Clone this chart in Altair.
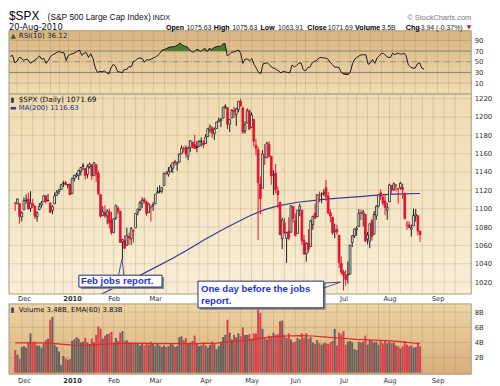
import altair as alt
import pandas as pd

# ---------------- data ----------------
# first bar = 24-Nov-2009 (index -4), last bar = 20-Aug-2010 (index 181)
TRADING_DAYS = {
    "2009-11": [24, 25, 27, 30],
    "2009-12": [1, 2, 3, 4, 7, 8, 9, 10, 11, 14, 15, 16, 17, 18, 21, 22, 23, 24, 28, 29, 30, 31],
    "2010-01": [4, 5, 6, 7, 8, 11, 12, 13, 14, 15, 19, 20, 21, 22, 25, 26, 27, 28, 29],
    "2010-02": [1, 2, 3, 4, 5, 8, 9, 10, 11, 12, 16, 17, 18, 19, 22, 23, 24, 25, 26],
    "2010-03": [1, 2, 3, 4, 5, 8, 9, 10, 11, 12, 15, 16, 17, 18, 19, 22, 23, 24, 25, 26, 29, 30, 31],
    "2010-04": [1, 5, 6, 7, 8, 9, 12, 13, 14, 15, 16, 19, 20, 21, 22, 23, 26, 27, 28, 29, 30],
    "2010-05": [3, 4, 5, 6, 7, 10, 11, 12, 13, 14, 17, 18, 19, 20, 21, 24, 25, 26, 27, 28],
    "2010-06": [1, 2, 3, 4, 7, 8, 9, 10, 11, 14, 15, 16, 17, 18, 21, 22, 23, 24, 25, 28, 29, 30],
    "2010-07": [1, 2, 6, 7, 8, 9, 12, 13, 14, 15, 16, 19, 20, 21, 22, 23, 26, 27, 28, 29, 30],
    "2010-08": [2, 3, 4, 5, 6, 9, 10, 11, 12, 13, 16, 17, 18, 19, 20],
}
PREV_CLOSE = 1106.2

OPEN = [
    1105.8, 1105.5, 1105.5, 1091.1,
    1098.9, 1109.0, 1110.6, 1100.4, 1105.5, 1103.0, 1091.1, 1099.0, 1103.9, 1107.8, 1114.1, 1108.6, 1106.4, 1097.9,
    1105.3, 1114.5, 1118.8, 1121.1, 1127.5, 1128.6, 1125.5, 1126.6,
    1116.6, 1132.7, 1135.7, 1136.3, 1140.5, 1146.0, 1143.8, 1137.3, 1145.7, 1147.7, 1136.0, 1148.0, 1138.7, 1115.5,
    1092.4, 1095.8, 1091.9, 1096.9, 1087.6,
    1073.9, 1090.1, 1100.7, 1097.3, 1064.1, 1065.5, 1060.1, 1069.7, 1067.1, 1076.0, 1079.1, 1096.1, 1099.0, 1105.5,
    1110.0, 1107.5, 1095.9, 1101.2, 1103.1,
    1105.4, 1117.0, 1119.4, 1119.1, 1125.1, 1138.4, 1137.6, 1140.2, 1144.0, 1151.7, 1148.5, 1150.8, 1159.9, 1166.1,
    1166.7, 1157.3, 1166.5, 1172.7, 1170.0, 1167.6, 1167.7, 1173.8, 1171.8,
    1171.2, 1178.7, 1186.0, 1188.2, 1181.8, 1187.5, 1194.9, 1195.9, 1198.7, 1210.8, 1210.2, 1192.1, 1199.0, 1207.2,
    1202.5, 1207.9, 1217.1, 1209.9, 1184.6, 1193.3, 1206.8,
    1188.6, 1197.5, 1169.2, 1164.4, 1127.0, 1122.3, 1156.4, 1155.4, 1170.0, 1157.2, 1136.5, 1138.8, 1119.6, 1107.3,
    1067.3, 1084.8, 1067.4, 1075.5, 1074.3, 1102.6,
    1087.3, 1073.0, 1098.8, 1098.4, 1065.8, 1050.8, 1062.8, 1058.8, 1082.7, 1095.0, 1091.2, 1114.0, 1116.0, 1116.2,
    1122.8, 1113.9, 1095.6, 1090.9, 1075.1, 1077.5, 1071.1, 1040.6,
    1031.1, 1027.7, 1028.1, 1028.5, 1062.9, 1070.5, 1077.2, 1080.7, 1095.6, 1094.5, 1093.9, 1066.9, 1064.5, 1086.7,
    1072.1, 1092.2, 1102.9, 1117.4, 1112.8, 1108.1, 1098.4,
    1107.5, 1125.3, 1121.1, 1125.8, 1122.1, 1122.8, 1122.9, 1116.9, 1081.5, 1082.2, 1077.5, 1081.2, 1092.1, 1092.4,
    1075.6,
]
HIGH = [
    1107.6, 1111.1, 1105.5, 1097.2,
    1112.3, 1115.6, 1117.3, 1119.1, 1110.7, 1103.0, 1097.0, 1106.3, 1108.5, 1114.8, 1114.1, 1116.2, 1106.4, 1103.7,
    1117.7, 1120.3, 1121.6, 1126.5, 1130.4, 1130.4, 1126.4, 1127.6,
    1133.9, 1136.6, 1139.2, 1142.5, 1145.4, 1149.7, 1143.8, 1148.4, 1150.4, 1147.8, 1150.5, 1148.0, 1141.6, 1115.5,
    1102.6, 1103.7, 1099.5, 1100.2, 1096.5,
    1089.4, 1104.7, 1102.7, 1097.3, 1067.1, 1071.2, 1079.3, 1073.7, 1080.0, 1077.8, 1095.0, 1099.8, 1108.2, 1112.4,
    1112.3, 1108.6, 1106.4, 1103.5, 1107.2,
    1116.1, 1123.5, 1125.6, 1123.7, 1139.4, 1141.1, 1145.4, 1148.3, 1150.2, 1153.4, 1151.0, 1160.3, 1169.2, 1167.8,
    1169.2, 1167.8, 1174.7, 1173.0, 1180.7, 1173.9, 1174.9, 1177.8, 1174.6,
    1181.4, 1187.7, 1191.8, 1189.6, 1188.6, 1194.7, 1199.2, 1199.0, 1210.7, 1213.9, 1210.2, 1197.9, 1208.6, 1211.0,
    1210.3, 1217.3, 1219.8, 1211.4, 1195.1, 1209.4, 1208.0,
    1205.1, 1197.5, 1176.0, 1167.6, 1135.1, 1163.9, 1170.5, 1172.9, 1173.6, 1157.2, 1141.9, 1148.7, 1124.3, 1107.3,
    1090.2, 1090.0, 1074.8, 1090.8, 1103.5, 1102.6,
    1094.8, 1098.6, 1105.7, 1098.4, 1071.3, 1063.2, 1077.7, 1087.9, 1092.3, 1105.9, 1115.6, 1118.7, 1117.7, 1121.0,
    1131.2, 1118.5, 1099.6, 1090.9, 1083.6, 1082.6, 1071.1, 1048.1,
    1033.6, 1033.0, 1042.5, 1060.9, 1071.3, 1078.2, 1080.8, 1099.5, 1099.1, 1098.7, 1093.9, 1074.7, 1083.9, 1089.0,
    1097.5, 1103.7, 1115.2, 1121.0, 1114.7, 1115.9, 1106.4,
    1127.3, 1125.4, 1128.8, 1126.6, 1122.1, 1129.2, 1127.2, 1116.9, 1086.7, 1086.3, 1082.6, 1100.1, 1099.8, 1092.4,
    1075.6,
]
LOW = [
    1097.6, 1104.8, 1083.7, 1086.3,
    1098.9, 1105.6, 1098.7, 1096.5, 1100.8, 1088.6, 1085.9, 1098.3, 1101.3, 1107.8, 1105.4, 1107.9, 1095.9, 1093.9,
    1105.3, 1114.5, 1116.0, 1121.1, 1123.5, 1126.1, 1121.9, 1114.8,
    1116.6, 1129.7, 1133.9, 1131.3, 1136.2, 1142.0, 1131.8, 1133.2, 1143.8, 1131.4, 1136.0, 1129.3, 1114.8, 1090.2,
    1092.4, 1089.9, 1083.1, 1078.5, 1071.6,
    1073.9, 1088.0, 1094.0, 1062.8, 1044.5, 1056.5, 1060.1, 1060.5, 1060.6, 1063.0, 1079.1, 1092.8, 1097.5, 1100.8,
    1105.4, 1092.2, 1095.5, 1086.0, 1097.6,
    1105.4, 1116.5, 1116.6, 1116.7, 1125.1, 1136.8, 1134.9, 1140.1, 1139.0, 1147.0, 1141.5, 1150.4, 1159.9, 1161.2,
    1155.3, 1152.9, 1161.9, 1166.0, 1165.1, 1161.5, 1167.7, 1168.0, 1165.8,
    1170.7, 1178.7, 1182.8, 1177.3, 1175.1, 1187.2, 1194.7, 1188.8, 1198.7, 1208.5, 1186.8, 1183.7, 1199.0, 1198.9,
    1190.2, 1205.1, 1211.1, 1181.6, 1181.8, 1193.3, 1186.3,
    1188.6, 1168.1, 1158.2, 1065.8, 1094.2, 1122.3, 1147.7, 1155.4, 1156.1, 1126.1, 1115.0, 1117.2, 1100.7, 1071.6,
    1055.9, 1072.7, 1040.8, 1065.6, 1074.3, 1084.8,
    1069.9, 1072.9, 1091.8, 1060.5, 1049.9, 1042.2, 1052.3, 1058.8, 1077.1, 1089.0, 1091.2, 1107.1, 1105.9, 1113.9,
    1108.2, 1094.2, 1085.3, 1071.6, 1067.9, 1071.5, 1035.2, 1028.3,
    1010.9, 1015.9, 1018.4, 1028.5, 1058.2, 1068.1, 1070.4, 1080.7, 1087.7, 1080.5, 1063.3, 1061.1, 1056.9, 1065.3,
    1072.1, 1087.9, 1101.3, 1109.8, 1103.1, 1092.8, 1088.0,
    1107.5, 1116.8, 1119.5, 1118.9, 1105.6, 1120.9, 1111.0, 1088.0, 1076.7, 1079.0, 1069.5, 1081.2, 1085.8, 1070.7,
    1063.9,
]
CLOSE = [
    1105.7, 1110.6, 1091.5, 1095.6,
    1108.9, 1109.2, 1099.9, 1106.0, 1103.3, 1091.9, 1095.9, 1102.4, 1106.4, 1114.1, 1107.9, 1109.2, 1096.1, 1102.5,
    1114.1, 1118.0, 1120.6, 1126.5, 1127.8, 1126.2, 1126.4, 1115.1,
    1133.0, 1136.5, 1137.1, 1141.7, 1145.0, 1147.0, 1136.2, 1145.7, 1148.5, 1136.0, 1150.2, 1138.0, 1116.5, 1091.8,
    1096.8, 1092.2, 1097.5, 1084.5, 1073.9,
    1089.2, 1103.3, 1097.3, 1063.1, 1066.2, 1056.7, 1070.5, 1068.1, 1078.5, 1075.5, 1094.9, 1099.5, 1106.8, 1109.2,
    1108.0, 1094.6, 1105.2, 1102.9, 1104.5,
    1115.7, 1118.3, 1118.8, 1123.0, 1138.7, 1138.5, 1140.5, 1145.6, 1150.2, 1150.0, 1150.5, 1159.5, 1166.2, 1165.8,
    1159.9, 1165.8, 1174.2, 1167.7, 1165.7, 1166.6, 1173.2, 1173.3, 1169.4,
    1178.1, 1187.4, 1189.4, 1182.5, 1186.4, 1194.4, 1196.5, 1197.3, 1210.7, 1211.7, 1192.1, 1197.5, 1207.2, 1205.9,
    1208.7, 1217.3, 1212.1, 1183.7, 1191.4, 1206.8, 1186.7,
    1202.3, 1173.6, 1165.9, 1128.2, 1110.9, 1159.7, 1155.8, 1171.7, 1157.4, 1135.7, 1136.9, 1120.8, 1115.1, 1071.6,
    1087.7, 1073.7, 1074.0, 1068.0, 1103.1, 1089.4,
    1070.7, 1098.4, 1102.8, 1064.9, 1050.5, 1062.0, 1055.7, 1086.8, 1091.6, 1089.6, 1115.2, 1114.6, 1116.0, 1117.5,
    1113.2, 1095.3, 1092.0, 1073.7, 1076.8, 1074.6, 1041.2, 1030.7,
    1027.4, 1022.6, 1028.1, 1060.3, 1070.3, 1078.0, 1078.8, 1095.3, 1095.2, 1096.5, 1064.9, 1071.3, 1083.5, 1069.6,
    1093.7, 1102.7, 1115.0, 1113.8, 1106.1, 1101.5, 1101.6,
    1125.9, 1120.5, 1127.2, 1125.8, 1121.6, 1127.8, 1121.1, 1089.5, 1083.6, 1079.3, 1079.4, 1092.5, 1094.2, 1075.6,
    1071.7,
]
VOLUME = [  # billions
    3.0, 2.4, 1.8, 3.4,
    3.5, 3.3, 4.1, 5.2, 4.0, 4.1, 3.6, 3.6, 3.3, 3.8, 4.3, 4.5, 7.0, 7.4,
    3.7, 3.4, 2.8, 1.0, 2.2, 1.9, 1.7, 1.8,
    4.2, 4.4, 4.7, 4.5, 4.0, 4.1, 4.6, 4.0, 3.8, 4.5, 4.0, 5.0, 6.1, 5.8,
    4.5, 4.9, 5.1, 5.2, 5.4,
    4.0, 4.6, 4.2, 5.3, 5.5, 4.2, 4.3, 4.0, 3.9, 3.8, 3.9, 3.8, 3.6, 3.9,
    3.6, 3.9, 3.7, 4.1, 3.9,
    3.5, 3.8, 3.6, 3.4, 3.6, 3.4, 3.5, 3.9, 3.7, 3.4, 3.5, 4.7, 4.8, 4.3,
    4.6, 3.8, 4.0, 4.2, 4.9, 3.8, 3.5, 3.6, 4.0,
    3.6, 3.3, 3.7, 4.1, 3.8, 3.1, 3.5, 4.1, 4.7, 5.0, 7.0, 5.3, 4.4, 5.0,
    4.7, 5.2, 4.8, 6.0, 5.0, 5.0, 5.1,
    4.4, 5.2, 5.2, 8.4, 7.9, 5.8, 4.6, 4.4, 4.9, 4.8, 5.3, 5.0, 5.1, 6.8,
    6.9, 5.0, 4.6, 5.2, 4.4, 4.0,
    4.1, 4.6, 4.4, 5.2, 4.6, 5.2, 4.5, 4.7, 4.0, 3.8, 4.3, 3.9, 3.7, 3.9,
    3.9, 3.8, 4.0, 4.2, 5.8, 3.6, 5.3, 5.1,
    5.5, 3.7, 4.1, 4.2, 4.0, 3.1, 3.0, 4.1, 4.0, 4.1, 4.9, 3.7, 4.3, 4.2,
    4.0, 4.1, 3.7, 4.2, 3.9, 4.3, 3.9,
    4.1, 3.9, 4.0, 3.6, 3.5, 3.2, 3.5, 4.2, 3.7, 3.5, 3.6, 3.3, 3.4, 4.0,
    3.5,
]
RSI = [
    60, 62, 48, 51,
    58, 57, 52, 55, 53, 47, 50, 53, 56, 61, 55, 56, 47, 52,
    60, 63, 65, 68, 69, 67, 67, 52,
    62, 64, 65, 67, 70, 71, 62, 66, 67, 58, 65, 56, 38, 30,
    32, 31, 33, 30, 27,
    38, 45, 42, 31, 31, 29, 36, 35, 41, 40, 50, 52, 56, 57,
    56, 49, 54, 53, 55,
    57, 59, 62, 66, 72, 73, 75, 77, 78, 78, 79, 82, 85, 81,
    79, 78, 74, 69, 68, 72, 73, 69, 72,
    75, 69, 75, 73, 76, 78, 79, 79, 83, 84, 61, 64, 68, 68,
    70, 72, 66, 47, 55, 55, 52,
    56, 45, 38, 30, 28, 46, 47, 48, 44, 39, 38, 35, 33, 29,
    32, 31, 30, 29, 44, 40,
    43, 47, 48, 35, 33, 39, 40, 48, 51, 52, 57, 58, 57, 57,
    55, 49, 45, 40, 40, 39, 30, 27,
    26, 26, 30, 46, 55, 58, 61, 63, 63, 63, 45, 48, 54, 47,
    57, 61, 66, 65, 61, 58, 58,
    66, 63, 66, 65, 64, 66, 61, 44, 40, 38, 38, 46, 48, 38,
    36.1,
]
# 200-day moving average of price, read at sample bars
MA_IDX = [30, 38, 45, 52, 60, 68, 76, 83, 93, 103, 110, 116, 125, 138, 147, 155, 164, 173, 181]
MA_VAL = [1000, 1010, 1018, 1026, 1036, 1046, 1057, 1067, 1080, 1092, 1099, 1103, 1107, 1110.5, 1112,
          1113.5, 1115.3, 1116.2, 1116.6]
# 60-day EMA of volume (billions), read at sample bars
EMA_IDX = [-4, 5, 12, 18, 24, 30, 36, 42, 50, 60, 70, 80, 88, 95, 100, 107, 112, 120, 126, 132, 138,
           145, 152, 160, 168, 175, 181]
EMA_VAL = [3.95, 3.95, 3.9, 3.75, 3.6, 3.65, 3.75, 3.85, 3.9, 3.85, 3.85, 3.85, 3.9, 4.1, 4.25, 4.5, 4.7,
           4.85, 4.9, 4.85, 4.7, 4.55, 4.4, 4.3, 4.2, 4.0, 3.83]

MONTH_TICKS = [0, 22, 41, 60, 83, 104, 124, 146, 167, 189]
MONTH_LABELS = ["Dec", "2010", "Feb", "Mar", "Apr", "May", "Jun", "Jul", "Aug", "Sep"]
WEEK_GRID = [-1, 4, 9, 14, 18, 22, 27, 32, 36, 41, 46, 51, 55, 60, 65, 70, 75, 80, 84, 89, 94, 99, 104,
             109, 114, 119, 124, 128, 133, 138, 143, 148, 152, 157, 162, 167, 172, 177, 182, 187, 192, 197]
PRICE_TICKS = [1020, 1040, 1060, 1080, 1100, 1120, 1140, 1160, 1180, 1200, 1220]
RSI_TICKS = [10, 30, 50, 70, 90]
VOL_TICKS = [2, 4, 6, 8]

QUOTE_LABELS = ["Open", "High", "Low", "Close", "Volume", "Chg"]
QUOTE_VALUES = ["1075.63", "1075.63", "1063.91", "1071.69", "3.5B", "-3.94 (-0.37%)"]
ANNOT_FEB = 45    # 05-Feb-2010
ANNOT_JUL = 146   # 01-Jul-2010

# ---------------- build tables ----------------
n = len(CLOSE)
assert all(len(a) == n for a in (OPEN, HIGH, LOW, VOLUME, RSI)), [len(a) for a in (OPEN, HIGH, LOW, CLOSE, VOLUME, RSI)]
dates = [f"{m}-{d:02d}" for m, days in TRADING_DAYS.items() for d in days]
assert len(dates) == n

RED, BLK, HOLLOW = "#e3122f", "#1d1d1d", "#fbf8ee"
VRED, VGRAY = "#d7434d", "#68615b"
prev = [PREV_CLOSE] + CLOSE[:-1]
rows = []
for i in range(n):
    down = CLOSE[i] < prev[i]
    col = RED if down else BLK
    rows.append(dict(idx=i - 4, date=dates[i], open=OPEN[i], high=HIGH[i], low=LOW[i], close=CLOSE[i],
                     vol=VOLUME[i], rsi=RSI[i], stroke=col,
                     fill=HOLLOW if CLOSE[i] > OPEN[i] else col,
                     vcol=VRED if down else VGRAY))
df = pd.DataFrame(rows)
ma_df = pd.DataFrame({"idx": MA_IDX, "ma": MA_VAL})
ema_df = pd.DataFrame({"idx": EMA_IDX, "ema": EMA_VAL})
week_df = pd.DataFrame({"idx": WEEK_GRID})
ONE = pd.DataFrame({"k": [0]})
annot_df = pd.DataFrame({"idx": [ANNOT_FEB]})
annot2_df = pd.DataFrame({"idx": [ANNOT_JUL]})

# ---------------- layout ----------------
W = 467
H_RSI, H_PX, H_GAP, H_VOL = 64, 202, 10, 71
XS = alt.Scale(domain=[-4.58, 202.1], nice=False, zero=False)
FONT = "DejaVu Sans"
ARIAL = "Liberation Sans"
BORDER = "#a89a80"

label_expr = " : ".join(f"datum.value === {t} ? '{l}'" for t, l in zip(MONTH_TICKS, MONTH_LABELS)) + " : ''"
bold_2010 = {"condition": {"test": f"datum.value === {MONTH_TICKS[1]}", "value": "bold"}, "value": "normal"}


def x_axis(pad):
    return alt.Axis(orient="bottom", values=MONTH_TICKS, labelExpr=label_expr, labelFontWeight=bold_2010,
                    grid=False, ticks=False, domain=False, labelPadding=pad, labelFlush=False,
                    labelOverlap=False, title=None, labelFontSize=6.8, labelColor="#333")


def mkx(axis):
    def f(field="idx"):
        return alt.X(f"{field}:Q", scale=XS, axis=axis)
    return f


def mky(domain, ticks, expr="format(datum.value, 'd')"):
    ax = alt.Axis(orient="right", values=ticks, grid=False, ticks=False, domain=False, labelPadding=3,
                  title=None, labelFontSize=7, labelColor="#333", labelExpr=expr)
    sc = alt.Scale(domain=domain, nice=False, zero=False)

    def f(field):
        return alt.Y(f"{field}:Q", scale=sc, axis=ax)
    return f


def bg(top, bottom, h):
    grad = alt.Gradient(gradient="linear", x1=0, x2=0, y1=0, y2=1,
                        stops=[alt.GradientStop(color=top, offset=0), alt.GradientStop(color=bottom, offset=1)])
    return alt.Chart(ONE).mark_rect(color=grad).encode(
        x=alt.value(0), x2=alt.value(W), y=alt.value(0), y2=alt.value(h))


def frame(h):
    return alt.Chart(ONE).mark_rect(fill=None, stroke=BORDER, strokeWidth=1).encode(
        x=alt.value(0), x2=alt.value(W), y=alt.value(0), y2=alt.value(h))


def txt(text, x, y, size=7, font=FONT, weight="normal", color="#111", align="left"):
    return alt.Chart(ONE).mark_text(text=text, align=align, baseline="alphabetic", font=font,
                                    fontSize=size, fontWeight=weight, color=color).encode(
        x=alt.value(x), y=alt.value(y))


def week_rules(xf, h):
    return alt.Chart(week_df).mark_rule(color="#8b7150", opacity=0.22, strokeWidth=1).encode(
        x=xf("idx"), y=alt.value(0), y2=alt.value(h))


def hlines(vals, yf, color, width=1, dash=None, opacity=1.0):
    kw = dict(color=color, strokeWidth=width, opacity=opacity)
    if dash:
        kw["strokeDash"] = dash
    return alt.Chart(pd.DataFrame({"v": vals})).mark_rule(**kw).encode(
        y=yf("v"), x=alt.value(0), x2=alt.value(W))


# ---------------- RSI panel ----------------
xr = mkx(None)
yr = mky([-10.5, 108], RSI_TICKS)
rsi_layers = [
    bg("#d9b482", "#f1ddb4", H_RSI),
    week_rules(xr, H_RSI),
    hlines([10, 90], yr, "#8b7150", 1, opacity=0.3),
    hlines([30, 70], yr, "#8a8070", 1),
    hlines([50], yr, "#968b79", 1, dash=[6, 2, 1, 2]),
    alt.Chart(df).transform_calculate(top="max(datum.rsi, 70)", base="70").mark_area(color="#4f7a30").encode(
        x=xr("idx"), y=yr("top"), y2=alt.Y2("base")),
    alt.Chart(df).transform_calculate(bot="min(datum.rsi, 30)", base="30").mark_area(color="#9a4638").encode(
        x=xr("idx"), y=yr("bot"), y2=alt.Y2("base")),
    alt.Chart(df).mark_line(color="#1a1a1a", strokeWidth=1).encode(x=xr("idx"), y=yr("rsi")),
    frame(H_RSI),
    txt("\u25b2", 1.5, 7.5, size=7, color="#3f5d26"),
    txt("RSI(10) 36.12", 9.8, 7.5, size=7.2, color="#222"),
    # header lines
    txt("$SPX", 0, -10.5, size=12, font=ARIAL, color="#000"),
    txt("(S&P 500 Large Cap Index)", 39, -10.5, size=8.5, font=ARIAL, color="#111"),
    txt("INDX", 145, -10.5, size=7.5, font=ARIAL, color="#111"),
    txt("\u00a9 StockCharts.com", W, -10.5, size=7.5, font=ARIAL, color="#7a7a7a", align="right"),
    txt("20-Aug-2010", 0, -0.8, size=8.4, font=FONT, color="#111"),
]
qx_labels = [158.6, 206.9, 254.1, 301.4, 349.7, 400.9]
qx_values = [179.3, 225.6, 271.8, 322.1, 376.3, 413.7]
for lab, val, xl, xv_ in zip(QUOTE_LABELS, QUOTE_VALUES, qx_labels, qx_values):
    rsi_layers.append(txt(lab, xl, -1.2, size=7.2, font=ARIAL, weight="bold", color="#000"))
    rsi_layers.append(txt(val, xv_, -1.2, size=7, font=ARIAL, color="#222"))
rsi_layers.append(txt("\u25bc", 462.5, -1.5, size=6, font=FONT, color="#d0103a"))
rsi = alt.layer(*rsi_layers).properties(width=W, height=H_RSI)

# ---------------- price panel ----------------
xp = mkx(x_axis(2))
yp = mky([1007, 1225], PRICE_TICKS)
price_layers = [
    bg("#efdbb0", "#f8eed6", H_PX),
    week_rules(xp, H_PX),
    hlines(PRICE_TICKS, yp, "#8b7150", 1, opacity=0.2),
    alt.Chart(ma_df).mark_line(color="#3b3a98", strokeWidth=1.2, clip=True).encode(x=xp("idx"), y=yp("ma")),
    alt.Chart(df).mark_rule(strokeWidth=1).encode(
        x=xp("idx"), y=yp("low"), y2=alt.Y2("high"), color=alt.Color("stroke:N", scale=None)),
    alt.Chart(df).mark_bar(size=1.8, strokeWidth=0.8).encode(
        x=xp("idx"), y=yp("open"), y2=alt.Y2("close"),
        fill=alt.Fill("fill:N", scale=None), stroke=alt.Stroke("stroke:N", scale=None)),
    frame(H_PX),
    txt("\u25ae", 1.5, 8.5, size=7, color="#333"),
    txt("$SPX (Daily) 1071.69", 9.8, 8.5, size=7.4, color="#111"),
    txt("\u25ac", 1, 16, size=7, color="#3b3a98"),
    txt("MA(200) 1116.63", 9.8, 16, size=7, color="#2b2b85"),
]
price = alt.layer(*price_layers).properties(width=W, height=H_PX)

# ---------------- spacer between price and volume ----------------
spacer = alt.Chart(ONE).mark_rect(opacity=0).encode(
    x=alt.value(0), x2=alt.value(1), y=alt.value(0), y2=alt.value(1)).properties(width=W, height=H_GAP)

# ---------------- volume panel ----------------
xv = mkx(x_axis(3))
yv = mky([-0.2, 9.1], VOL_TICKS, expr="datum.value + 'B'")
BLUE, NAVY = "#1f35d8", "#1d2a6b"
vol_layers = [
    bg("#eed4a6", "#d9ae7d", H_VOL),
    week_rules(xv, H_VOL),
    hlines(VOL_TICKS, yv, "#8b7150", 1, opacity=0.22),
    alt.Chart(df).mark_bar(size=2.0).encode(
        x=xv("idx"), y=yv("vol"), color=alt.Color("vcol:N", scale=None)),
    alt.Chart(ema_df).mark_line(color="#e5262c", strokeWidth=1.2).encode(x=xv("idx"), y=yv("ema")),
    frame(H_VOL),
    txt("\u25ae", 1.5, 8.5, size=7, color="#444"),
    txt("Volume 3.48B, EMA(60) 3.83B", 9.8, 8.5, size=7, color="#111"),
]
# annotation: Feb jobs report (points at the 05-Feb-2010 low)
vol_layers += [
    alt.Chart(annot_df).mark_rect(color="#8a8a8a", xOffset=-42, x2Offset=42).encode(
        x=xv("idx"), x2=alt.X2("idx"), y=alt.value(-27), y2=alt.value(-15)),
    alt.Chart(annot_df).mark_rect(fill="#ffffff", stroke=NAVY, strokeWidth=1, xOffset=-44, x2Offset=40).encode(
        x=xv("idx"), x2=alt.X2("idx"), y=alt.value(-29), y2=alt.value(-17)),
    alt.Chart(annot_df).mark_rule(color=NAVY, strokeWidth=0.8, xOffset=-4, x2Offset=-0.5).encode(
        x=xv("idx"), x2=alt.X2("idx"), y=alt.value(-29), y2=alt.value(-45)),
    alt.Chart(annot_df).mark_rule(color=NAVY, strokeWidth=0.8, xOffset=1.5, x2Offset=-0.5).encode(
        x=xv("idx"), x2=alt.X2("idx"), y=alt.value(-29), y2=alt.value(-45)),
    alt.Chart(annot_df).mark_text(text="Feb jobs report.", align="left", baseline="alphabetic", font=ARIAL,
                                  fontSize=9.7, fontWeight="bold", color=BLUE, dx=-42).encode(
        x=xv("idx"), y=alt.value(-20)),
]
# annotation: One day before the jobs report (points at the 01-Jul-2010 bar)
vol_layers += [
    alt.Chart(annot2_df).mark_rect(color="#8a8a8a", xOffset=-145, x2Offset=-18).encode(
        x=xv("idx"), x2=alt.X2("idx"), y=alt.value(-21), y2=alt.value(6)),
    alt.Chart(annot2_df).mark_rect(fill="#ffffff", stroke=NAVY, strokeWidth=1, xOffset=-147, x2Offset=-20).encode(
        x=xv("idx"), x2=alt.X2("idx"), y=alt.value(-23), y2=alt.value(4)),
    alt.Chart(annot2_df).mark_rule(color=NAVY, strokeWidth=0.8, xOffset=-20, x2Offset=-3).encode(
        x=xv("idx"), x2=alt.X2("idx"), y=alt.value(-21), y2=alt.value(-22)),
    alt.Chart(annot2_df).mark_rule(color=NAVY, strokeWidth=0.8, xOffset=-20, x2Offset=-3).encode(
        x=xv("idx"), x2=alt.X2("idx"), y=alt.value(-16), y2=alt.value(-22)),
    alt.Chart(annot2_df).mark_text(text="One day before the jobs", align="left", baseline="alphabetic",
                                   font=ARIAL, fontSize=9.7, fontWeight="bold", color=BLUE, dx=-144).encode(
        x=xv("idx"), y=alt.value(-12.5)),
    alt.Chart(annot2_df).mark_text(text="report.", align="left", baseline="alphabetic",
                                   font=ARIAL, fontSize=9.7, fontWeight="bold", color=BLUE, dx=-144).encode(
        x=xv("idx"), y=alt.value(0.5)),
]
volume = alt.layer(*vol_layers).properties(width=W, height=H_VOL)

chart = alt.vconcat(rsi, price, spacer, volume, spacing=0, bounds="flush").resolve_scale(
    x="independent", y="independent")
chart = chart.properties(padding=0, background="#ffffff").configure_view(
    stroke=None).configure_axis(labelFont=FONT)

chart.save("out.html", embed_options={"renderer": "svg", "actions": False})
